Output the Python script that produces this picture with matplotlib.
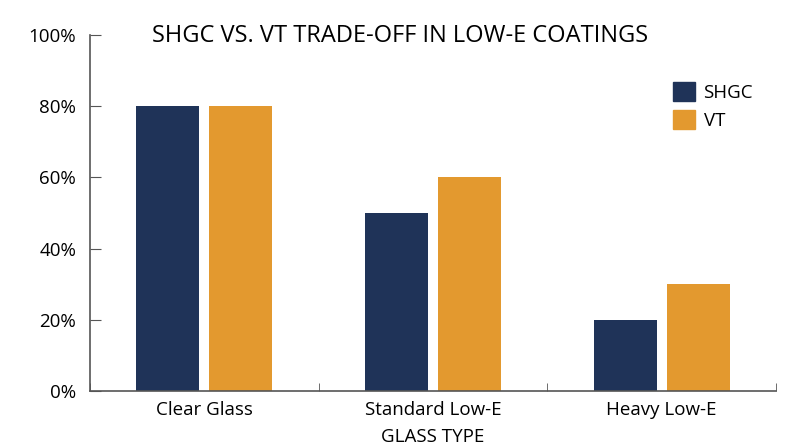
import numpy as np
import matplotlib
matplotlib.use('Agg')
import matplotlib.pyplot as plt
from matplotlib.patches import Patch

categories = ["Clear Glass", "Standard Low-E", "Heavy Low-E"]
shgc = [80, 50, 20]
vt = [80, 60, 30]
yticks = [0, 20, 40, 60, 80, 100]

navy = "#1f3358"
orange = "#e3992f"

plt.rcParams['font.family'] = ['Open Sans', 'DejaVu Sans']

fig = plt.figure(figsize=(8, 4.47), dpi=100)
ax = fig.add_axes([0.1125, 0.1253, 0.8575, 0.7964])

x = np.arange(len(categories))
w = 0.275
gap = 0.022
ax.bar(x - w / 2 - gap, shgc, width=w, color=navy)
ax.bar(x + w / 2 + gap, vt, width=w, color=orange)

ax.set_xlim(-0.5, len(categories) - 0.5)
ax.set_ylim(0, 100)
ax.set_yticks(yticks)
ax.set_yticklabels([f"{v}%" for v in yticks], fontsize=13.5)
ax.set_xticks(x)
ax.set_xticklabels(categories, fontsize=13.5)
ax.set_xticks(np.arange(-0.5, len(categories)), minor=True)
ax.tick_params(axis='x', which='major', length=0, pad=7)
ax.tick_params(axis='x', which='minor', direction='in', length=6, color="#555555")
ax.tick_params(axis='y', direction='in', length=8, color="#555555", pad=10)

for side in ["top", "right"]:
    ax.spines[side].set_visible(False)
for side in ["left", "bottom"]:
    ax.spines[side].set_color("#555555")
    ax.spines[side].set_linewidth(1.2)

ax.set_xlabel("GLASS TYPE", fontsize=13.5, labelpad=7)
fig.text(0.5, 0.92, "SHGC VS. VT TRADE-OFF IN LOW-E COATINGS", ha="center", va="center", fontsize=17)

handles = [Patch(color=navy, label="SHGC"), Patch(color=orange, label="VT")]
fig.legend(handles=handles, loc="upper left", bbox_to_anchor=(0.829, 0.838), frameon=False,
           borderpad=0, fontsize=13.5, handlelength=1.2, handleheight=1.2,
           handletextpad=0.45, labelspacing=0.45)

fig.savefig("out.png")
